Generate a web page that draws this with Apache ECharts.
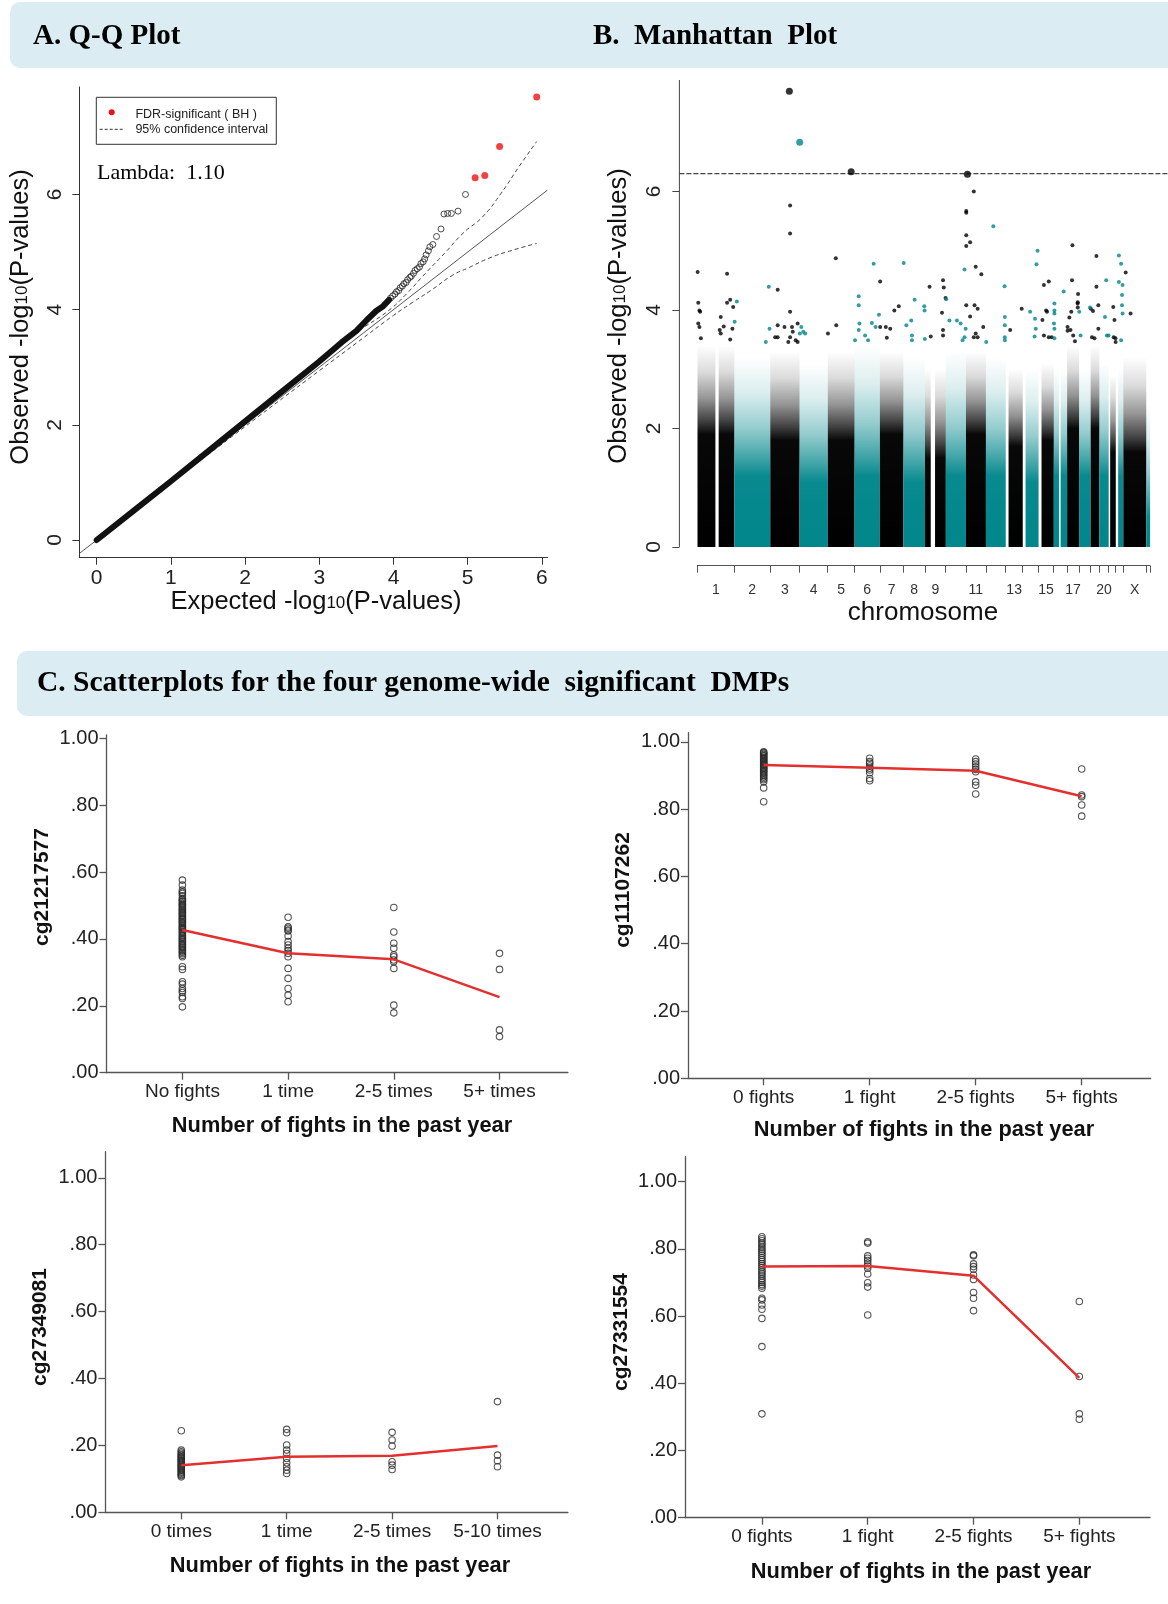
<!DOCTYPE html>
<html>
<head>
<meta charset="utf-8">
<script src="https://cdn.jsdelivr.net/npm/echarts@6/dist/echarts.min.js"></script>
<style>
html, body { margin: 0; padding: 0; background: #fff; }
#chart { width: 1168px; height: 1604px; }
</style>
</head>
<body>
<div id="chart"></div>
<script>
// ---------------- A. Q-Q plot data ----------------
const QQ_X_TICKS = [0, 1, 2, 3, 4, 5, 6];
const QQ_Y_TICKS = [0, 2, 4, 6];
// bulk of the observed vs expected -log10(p) curve (overlapping circles)
const QQ_BODY = [[0, 0], [0.5, 0.51], [1, 1.02], [1.5, 1.54], [2, 2.06], [2.5, 2.58], [3, 3.10],
  [3.3, 3.43], [3.5, 3.63], [3.64, 3.82], [3.77, 3.98], [3.86, 4.06], [3.94, 4.17]];
// upper tail, individually visible circles
const QQ_TAIL = [[3.96, 4.20], [3.99, 4.24], [4.02, 4.27], [4.04, 4.31], [4.07, 4.33], [4.09, 4.38],
  [4.12, 4.41], [4.14, 4.45], [4.17, 4.47], [4.19, 4.52], [4.22, 4.56], [4.24, 4.58], [4.27, 4.63],
  [4.29, 4.68], [4.32, 4.71], [4.35, 4.74], [4.37, 4.80], [4.40, 4.83], [4.42, 4.88], [4.44, 4.95],
  [4.47, 5.02], [4.49, 5.09], [4.53, 5.13], [4.58, 5.27], [4.64, 5.40], [4.68, 5.66], [4.73, 5.67],
  [4.78, 5.67], [4.87, 5.71], [4.97, 6.00]];
const QQ_FDR = [[5.10, 6.29], [5.23, 6.33], [5.43, 6.83], [5.93, 7.69]];
const QQ_CI_UPPER = [[0, 0], [1, 1.01], [2, 2.03], [3, 3.07], [3.5, 3.60], [3.93, 3.98], [4.18, 4.28],
  [4.43, 4.63], [4.69, 4.98], [4.94, 5.33], [5.2, 5.61], [5.45, 6.02], [5.69, 6.48], [5.93, 6.92]];
const QQ_CI_LOWER = [[0, 0], [1, 0.99], [2, 1.97], [3, 2.94], [3.5, 3.42], [4, 3.90], [4.25, 4.12],
  [4.5, 4.33], [4.8, 4.60], [5.0, 4.72], [5.3, 4.90], [5.6, 5.03], [5.93, 5.15]];
const QQ_LAMBDA = '1.10';
const QQ_X_MIN = -0.233, QQ_X_MAX = 6.074, QQ_Y_MIN = -0.307, QQ_Y_MAX = 7.865;

// ---------------- B. Manhattan plot data ----------------
const CHR_NAMES = ['1','2','3','4','5','6','7','8','9','10','11','12','13','14','15','16','17','18','19','20','21','22','X','Y'];
const CHR_LEN = [249, 243, 198, 191, 181, 171, 159, 146, 141, 136, 135, 134, 115, 107, 103, 90, 81, 78, 59, 63, 48, 51, 155, 26];
const CHR_SHOWN_LABELS = ['1','2','3','4','5','6','7','8','9','11','13','15','17','20','X'];
// height where each chromosome's probe cloud is solid, and where it thins out
const CHR_SOLID = [1.9, 1.2, 1.8, 1.1, 1.8, 1.2, 1.9, 1.1, 1.5, 1.2, 1.9, 1.2, 1.7, 1.1, 1.8, 1.2, 2.0, 1.2, 2.0, 1.2, 1.6, 1.2, 1.6, 0.5];
const CHR_CLOUD = [3.4, 3.2, 3.3, 3.1, 3.3, 3.4, 3.3, 3.2, 3.0, 3.3, 3.3, 3.2, 3.0, 3.0, 3.1, 3.0, 3.4, 3.0, 3.4, 3.1, 2.9, 3.0, 3.2, 2.4];
// [chromosome, start Mb, end Mb] stretches without probes
const CHR_GAPS = [[1, 121, 143], [9, 39, 68], [13, 0, 19], [14, 0, 19], [15, 0, 20], [16, 35, 46], [21, 0, 10], [22, 0, 16]];
const MH_THRESHOLD = 6.30;
// [chromosome, position Mb, -log10 p]
const MH_SIG = [[3, 129, 7.69], [4, 1, 6.83], [5, 158, 6.33], [11, 10, 6.29]];
const MH_POINTS = [
  [1,1,4.64],[1,200,4.61],[1,5,4.12],[1,13,3.99],[1,18,3.97],[1,200,4.12],[1,221,4.17],[1,241,4.05],[1,5,3.77],[1,13,3.71],[1,23,3.52],[1,157,3.88],[1,150,3.66],[1,157,3.60],[1,177,3.72],[1,221,3.50],[1,236,3.68],
  [2,17,4.14],[2,233,4.39],[2,2,3.80],[2,238,3.68],[2,213,3.46],
  [3,134,5.76],[3,134,5.29],[3,50,4.34],[3,50,3.74],[3,50,3.54],[3,33,3.54],[3,134,3.97],[3,96,3.71],[3,147,3.71],[3,152,3.63],[3,134,3.54],[3,122,3.46],[3,172,3.49],[3,185,3.46],[3,185,3.77],
  [4,2,3.60],[4,38,3.60],[4,12,3.71],[4,25,3.63],
  [5,54,4.87],[5,1,3.60],[5,57,3.74],
  [6,129,4.78],[6,28,4.23],[6,28,4.08],[6,165,3.92],[6,33,3.77],[6,28,3.66],[6,71,3.57],[6,91,3.49],[6,117,3.78],[6,3,3.49],[6,142,3.71],
  [7,2,4.48],[7,98,3.99],[7,128,4.06],[7,2,3.71],[7,40,3.71],[7,47,3.53],[7,70,3.68],
  [8,2,4.79],[8,76,4.17],[8,141,4.06],[8,143,3.99],[8,20,3.74],[8,53,3.82],[8,58,3.57],[8,58,3.49],[8,145,3.51],
  [9,31,4.39],[9,122,4.50],[9,127,4.38],[9,115,3.95],[9,139,4.20],[9,39,3.55],[9,122,3.66],[9,122,3.57],
  [10,2,4.18],[10,126,4.68],[10,24,3.82],[10,75,3.82],[10,100,3.77],[10,113,3.49],[10,126,3.54],[10,134,3.68],
  [11,53,6.00],[11,2,5.67],[11,2,5.64],[11,2,5.26],[11,28,5.14],[11,2,5.08],[11,66,4.73],[11,104,4.60],[11,2,4.08],[11,58,4.08],[11,79,4.02],[11,28,3.89],[11,66,3.60],[11,53,3.54],[11,79,3.54],[11,117,3.71],
  [12,50,5.41],[12,126,4.40],[12,128,3.88],[12,2,3.46],[12,128,3.74],[12,128,3.54],[12,128,3.49],
  [13,108,4.02],[13,30,3.66],
  [14,100,5.00],[14,93,4.77],[14,50,3.97],[14,83,3.85],[14,88,3.68],[14,80,3.55],
  [15,36,4.42],[15,69,4.48],[15,51,3.99],[15,26,3.83],[15,36,3.57],[15,57,3.97],[15,69,3.54],[15,89,3.54],
  [16,67,4.31],[16,4,4.11],[16,4,3.99],[16,4,3.94],[16,4,3.68],[16,4,3.52],[16,1,3.77],
  [17,36,5.09],[17,33,4.50],[17,74,4.27],[17,72,4.13],[17,72,4.04],[17,28,3.97],[17,3,3.71],[17,3,3.65],[17,15,3.87],[17,23,3.66],[17,41,3.57],[17,53,3.47],[17,71,4.11],
  [18,74,4.04],[18,1,3.97],[18,10,3.57],
  [19,39,4.91],[19,39,4.39],[19,52,4.08],[19,1,4.02],[19,16,3.98],[19,9,3.54],[19,26,3.52],[19,52,3.68],
  [20,46,4.50],[20,38,3.88],[20,51,3.57],[20,62,3.57],
  [21,31,4.05],[21,39,3.83],[21,34,3.54],[21,46,3.52],[21,47,3.46],
  [22,21,4.92],[22,21,4.47],[22,36,4.78],[22,46,4.42],[22,42,4.25],[22,42,4.08],[22,46,3.94],[22,36,3.49],
  [23,16,4.63],[23,49,3.94]
];
const MH_Y_TICKS = [0, 2, 4, 6];
const MH_Y_MIN = -0.31, MH_Y_MAX = 7.88;

// ---------------- C. DMP scatterplots ----------------
const C_Y_TICKS = [0, 0.2, 0.4, 0.6, 0.8, 1.0];

const P1_NAME = 'cg21217577';
const P1_LABELS = ['No fights', '1 time', '2-5 times', '5+ times'];
const P1_G0 = [0.576, 0.561, 0.546, 0.540, 0.536, 0.529, 0.521, 0.518, 0.514, 0.511, 0.506, 0.503, 0.500, 0.496, 0.492, 0.489,
  0.486, 0.481, 0.478, 0.475, 0.471, 0.468, 0.463, 0.460, 0.457, 0.452, 0.449, 0.446, 0.441, 0.438, 0.434, 0.431, 0.428,
  0.424, 0.420, 0.417, 0.412, 0.409, 0.405, 0.401, 0.398, 0.394, 0.391, 0.386, 0.383, 0.379, 0.375, 0.372, 0.368,
  0.364, 0.360, 0.356, 0.351, 0.347, 0.317, 0.309, 0.272, 0.265, 0.252, 0.245, 0.240, 0.227, 0.222, 0.197];
const P1_G1 = [0.465, 0.436, 0.432, 0.427, 0.424, 0.409, 0.392, 0.382, 0.372, 0.365, 0.357, 0.347, 0.312, 0.282, 0.252, 0.232, 0.212];
const P1_G2 = [0.494, 0.421, 0.387, 0.372, 0.352, 0.347, 0.337, 0.332, 0.312, 0.202, 0.179];
const P1_G3 = [0.357, 0.309, 0.128, 0.108];
const P1_MEAN = [0.427, 0.357, 0.339, 0.226];

const P2_NAME = 'cg11107262';
const P2_LABELS = ['0 fights', '1 fight', '2-5 fights', '5+ fights'];
const P2_G0 = [0.970, 0.968, 0.965, 0.962, 0.959, 0.957, 0.953, 0.950, 0.948, 0.944, 0.941, 0.939, 0.935, 0.932, 0.930,
  0.926, 0.923, 0.921, 0.917, 0.914, 0.911, 0.907, 0.903, 0.900, 0.895, 0.891, 0.887, 0.881, 0.863, 0.822];
const P2_G1 = [0.951, 0.941, 0.936, 0.928, 0.921, 0.916, 0.908, 0.891, 0.884];
const P2_G2 = [0.949, 0.941, 0.934, 0.926, 0.918, 0.911, 0.881, 0.871, 0.845];
const P2_G3 = [0.919, 0.842, 0.837, 0.812, 0.779];
const P2_MEAN = [0.931, 0.923, 0.914, 0.838];

const P3_NAME = 'cg27349081';
const P3_LABELS = ['0 times', '1 time', '2-5 times', '5-10 times'];
const P3_G0 = [0.244, 0.186, 0.181, 0.177, 0.173, 0.170, 0.166, 0.163, 0.160, 0.156, 0.153, 0.150, 0.147, 0.143, 0.140,
  0.137, 0.134, 0.130, 0.127, 0.124, 0.120, 0.117, 0.113, 0.110, 0.106];
const P3_G1 = [0.248, 0.238, 0.201, 0.186, 0.176, 0.161, 0.148, 0.136, 0.126, 0.116];
const P3_G2 = [0.239, 0.216, 0.198, 0.151, 0.141, 0.128];
const P3_G3 = [0.331, 0.171, 0.154, 0.136];
const P3_MEAN = [0.141, 0.166, 0.169, 0.198];

const P4_NAME = 'cg27331554';
const P4_LABELS = ['0 fights', '1 fight', '2-5 fights', '5+ fights'];
const P4_G0 = [0.836, 0.830, 0.824, 0.817, 0.812, 0.805, 0.799, 0.793, 0.787, 0.781, 0.774, 0.768, 0.762, 0.756, 0.750,
  0.744, 0.737, 0.731, 0.725, 0.719, 0.712, 0.706, 0.700, 0.694, 0.689, 0.683, 0.653, 0.648, 0.633, 0.620, 0.593, 0.509, 0.309];
const P4_G1 = [0.821, 0.817, 0.779, 0.772, 0.765, 0.757, 0.749, 0.742, 0.725, 0.699, 0.686, 0.603];
const P4_G2 = [0.782, 0.779, 0.755, 0.747, 0.739, 0.722, 0.709, 0.670, 0.653, 0.616];
const P4_G3 = [0.643, 0.420, 0.309, 0.293];
const P4_MEAN = [0.747, 0.749, 0.720, 0.416];

// ---------------- styling ----------------
const SANS = "'Liberation Sans', Arial, sans-serif";
const SERIF = "'Liberation Serif', 'Times New Roman', serif";
const TEAL_RGB = '0,134,139';
const BLACK_RGB = '0,0,0';
const HEADER_FILL = '#dbedf3';
const RED_LINE = '#e3302f';

// cumulative chromosome offsets
const CHR_START = [];
let genomeLen = 0;
CHR_LEN.forEach(l => { CHR_START.push(genomeLen); genomeLen += l; });
const MH_X_MIN = -0.04 * genomeLen, MH_X_MAX = genomeLen * 1.04;
const CHR_BOUNDS = CHR_START.concat([genomeLen]);
const CHR_LABEL_POS = CHR_SHOWN_LABELS.map(n => {
  const i = CHR_NAMES.indexOf(n);
  return CHR_START[i] + CHR_LEN[i] / 2;
});

// probe-cloud blocks per chromosome, split at probe-free stretches
const mhBlocks = [];
CHR_LEN.forEach((len, i) => {
  const gaps = CHR_GAPS.filter(g => g[0] === i + 1).sort((a, b) => a[1] - b[1]);
  let cur = 0;
  const segs = [];
  gaps.forEach(g => { if (g[1] > cur) segs.push([cur, g[1]]); cur = g[2]; });
  segs.push([cur, len]);
  segs.forEach(s => mhBlocks.push([CHR_START[i] + s[0], CHR_START[i] + s[1], CHR_SOLID[i], CHR_CLOUD[i], i % 2]));
});
const toGenome = p => [CHR_START[p[0] - 1] + p[1], p[2]];
const mhBlack = MH_POINTS.filter(p => (p[0] - 1) % 2 === 0).map(toGenome);
const mhTeal = MH_POINTS.filter(p => (p[0] - 1) % 2 === 1).map(toGenome);
const mhSigBlack = MH_SIG.filter(p => (p[0] - 1) % 2 === 0).map(toGenome);
const mhSigTeal = MH_SIG.filter(p => (p[0] - 1) % 2 === 1).map(toGenome);

// ---------------- layout ----------------
const grids = [
  { left: 79.4, top: 87, width: 468, height: 470.7 },          // Q-Q
  { left: 679.4, top: 80, width: 488.8, height: 485.3 },       // Manhattan
  { left: 697.4, top: 564.7, width: 452.6, height: 1 },        // chromosome axis
  { left: 106.5, top: 735, width: 461.4, height: 337.7 },      // C top-left
  { left: 688, top: 732.7, width: 462.7, height: 345.6 },      // C top-right
  { left: 105.4, top: 1151.7, width: 462.5, height: 360.6 },   // C bottom-left
  { left: 685, top: 1156.7, width: 465, height: 361 }          // C bottom-right
].map(g => Object.assign({ containLabel: false, outerBoundsMode: 'none' }, g));

const AX_COLOR = '#333';
const tickStyle = (vals, color, width) => ({ show: true, inside: false, length: 7, customValues: vals, lineStyle: { color: color, width: width } });
const lineStyleOf = (color, width) => ({ show: true, onZero: false, lineStyle: { color: color, width: width } });

const xAxes = [];
const yAxes = [];

// Q-Q axes
xAxes.push({
  gridIndex: 0, type: 'value', min: QQ_X_MIN, max: QQ_X_MAX,
  axisLine: lineStyleOf(AX_COLOR, 1), splitLine: { show: false },
  axisTick: tickStyle(QQ_X_TICKS, AX_COLOR, 1),
  axisLabel: { customValues: QQ_X_TICKS, fontSize: 21, color: '#222', fontFamily: SANS, margin: 10, formatter: v => String(Math.round(v)) }
});
yAxes.push({
  gridIndex: 0, type: 'value', min: QQ_Y_MIN, max: QQ_Y_MAX,
  axisLine: lineStyleOf(AX_COLOR, 1), splitLine: { show: false },
  axisTick: tickStyle(QQ_Y_TICKS, AX_COLOR, 1),
  axisLabel: { customValues: QQ_Y_TICKS, rotate: 90, fontSize: 21, color: '#222', fontFamily: SANS, margin: 14, formatter: v => String(Math.round(v)) }
});

// Manhattan axes
xAxes.push({ gridIndex: 1, type: 'value', min: MH_X_MIN, max: MH_X_MAX, show: false, axisLine: { onZero: false }, splitLine: { show: false } });
yAxes.push({
  gridIndex: 1, type: 'value', min: MH_Y_MIN, max: MH_Y_MAX,
  axisLine: { show: false, onZero: false }, splitLine: { show: false },
  axisTick: tickStyle(MH_Y_TICKS, '#444', 1),
  axisLabel: { customValues: MH_Y_TICKS, rotate: 90, fontSize: 21, color: '#222', fontFamily: SANS, margin: 15, formatter: v => String(Math.round(v)) }
});

// chromosome axis
xAxes.push({
  gridIndex: 2, type: 'value', min: 0, max: genomeLen, position: 'bottom',
  axisLine: lineStyleOf('#555', 1),
  axisTick: tickStyle(CHR_BOUNDS, '#555', 1),
  axisLabel: {
    customValues: CHR_LABEL_POS, fontSize: 14, color: '#333', fontFamily: SANS, margin: 17, hideOverlap: false,
    formatter: v => {
      const k = CHR_LABEL_POS.findIndex(c => Math.abs(c - v) < 1e-6);
      return k >= 0 ? CHR_SHOWN_LABELS[k] : '';
    }
  },
  splitLine: { show: false }
});
yAxes.push({ gridIndex: 2, type: 'value', show: false, min: 0, max: 1, axisLine: { onZero: false }, splitLine: { show: false } });

// scatterplot panels
const panels = [
  { name: P1_NAME, labels: P1_LABELS, groups: [P1_G0, P1_G1, P1_G2, P1_G3], mean: P1_MEAN, xMin: -0.718, xMax: 3.647, yMax: 1.010, title: [342, 1126], ytitle: [42.5, 887] },
  { name: P2_NAME, labels: P2_LABELS, groups: [P2_G0, P2_G1, P2_G2, P2_G3], mean: P2_MEAN, xMin: -0.714, xMax: 3.651, yMax: 1.027, title: [924, 1130], ytitle: [623, 890] },
  { name: P3_NAME, labels: P3_LABELS, groups: [P3_G0, P3_G1, P3_G2, P3_G3], mean: P3_MEAN, xMin: -0.720, xMax: 3.668, yMax: 1.078, title: [340, 1566], ytitle: [40.7, 1327] },
  { name: P4_NAME, labels: P4_LABELS, groups: [P4_G0, P4_G1, P4_G2, P4_G3], mean: P4_MEAN, xMin: -0.727, xMax: 3.668, yMax: 1.074, title: [921, 1571.7], ytitle: [621, 1332] }
];
const C_AX = '#555';
panels.forEach((p, k) => {
  const gi = 3 + k;
  xAxes.push({
    gridIndex: gi, type: 'value', min: p.xMin, max: p.xMax,
    axisLine: lineStyleOf(C_AX, 1.3), splitLine: { show: false },
    axisTick: tickStyle([0, 1, 2, 3], C_AX, 1.3),
    axisLabel: { customValues: [0, 1, 2, 3], fontSize: 19, color: '#222', fontFamily: SANS, margin: 10, formatter: v => p.labels[Math.round(v)] }
  });
  yAxes.push({
    gridIndex: gi, type: 'value', min: 0, max: p.yMax,
    axisLine: lineStyleOf(C_AX, 1.3), splitLine: { show: false },
    axisTick: tickStyle(C_Y_TICKS, C_AX, 1.3),
    axisLabel: {
      customValues: C_Y_TICKS, fontSize: 20, color: '#222', fontFamily: SANS, margin: 8,
      formatter: v => (Math.abs(v - 1) < 1e-9 ? '1.00' : v.toFixed(2).replace(/^0/, ''))
    }
  });
});

// ---------------- series ----------------
const series = [];

// Q-Q
series.push({ type: 'line', xAxisIndex: 0, yAxisIndex: 0, data: [[QQ_X_MIN, QQ_X_MIN], [QQ_X_MAX, QQ_X_MAX]],
  symbol: 'none', lineStyle: { color: '#555', width: 1 }, silent: true, z: 2 });
series.push({ type: 'line', xAxisIndex: 0, yAxisIndex: 0, data: QQ_CI_UPPER, smooth: true,
  symbol: 'none', lineStyle: { color: '#444', width: 1, type: [4, 3] }, silent: true, z: 2 });
series.push({ type: 'line', xAxisIndex: 0, yAxisIndex: 0, data: QQ_CI_LOWER, smooth: true,
  symbol: 'none', lineStyle: { color: '#444', width: 1, type: [4, 3] }, silent: true, z: 2 });
series.push({ type: 'line', xAxisIndex: 0, yAxisIndex: 0, data: QQ_BODY,
  symbol: 'none', lineStyle: { color: '#111', width: 6, cap: 'round', join: 'round' }, silent: true, z: 3 });
series.push({ type: 'scatter', xAxisIndex: 0, yAxisIndex: 0, data: QQ_TAIL, symbol: 'circle', symbolSize: 6,
  itemStyle: { color: 'rgba(255,255,255,0)', borderColor: '#222', borderWidth: 1 }, silent: true, z: 3 });
series.push({ type: 'scatter', xAxisIndex: 0, yAxisIndex: 0, data: QQ_FDR, symbol: 'circle', symbolSize: 7,
  itemStyle: { color: '#ee1111' }, silent: true, z: 4 });

// Manhattan: probe clouds, solid at the base and thinning towards the top
series.push({
  type: 'custom', xAxisIndex: 1, yAxisIndex: 1, data: mhBlocks, silent: true, z: 1,
  renderItem: (params, api) => {
    const x0 = api.value(0), x1 = api.value(1), solid = api.value(2), cloud = api.value(3), teal = api.value(4);
    const a = api.coord([x0, 0]), b = api.coord([x1, cloud]);
    const rgb = teal ? TEAL_RGB : BLACK_RGB;
    const f = 1 - solid / cloud;
    return {
      type: 'rect',
      shape: { x: a[0], y: b[1], width: Math.max(0.5, b[0] - a[0]), height: a[1] - b[1] },
      style: {
        fill: {
          type: 'linear', x: 0, y: 0, x2: 0, y2: 1,
          colorStops: [
            { offset: 0, color: `rgba(${rgb},0)` },
            { offset: f * 0.3, color: `rgba(${rgb},0.14)` },
            { offset: f * 0.6, color: `rgba(${rgb},0.42)` },
            { offset: f * 0.85, color: `rgba(${rgb},0.75)` },
            { offset: f, color: `rgba(${rgb},0.97)` },
            { offset: 1, color: `rgba(${rgb},1)` }
          ]
        }
      }
    };
  }
});
series.push({ type: 'line', xAxisIndex: 1, yAxisIndex: 1, data: [[MH_X_MIN, 0], [MH_X_MIN, MH_Y_MAX]],
  symbol: 'none', lineStyle: { color: '#444', width: 1 }, clip: false, silent: true });
series.push({ type: 'line', xAxisIndex: 1, yAxisIndex: 1, data: [[MH_X_MIN, MH_THRESHOLD], [MH_X_MAX, MH_THRESHOLD]],
  symbol: 'none', lineStyle: { color: '#444', width: 1.3, type: [5, 2] }, silent: true, z: 2 });
series.push({ type: 'scatter', xAxisIndex: 1, yAxisIndex: 1, data: mhBlack, symbol: 'circle', symbolSize: 4,
  itemStyle: { color: '#000' }, silent: true, z: 3 });
series.push({ type: 'scatter', xAxisIndex: 1, yAxisIndex: 1, data: mhTeal, symbol: 'circle', symbolSize: 4,
  itemStyle: { color: '#00868b' }, silent: true, z: 3 });
series.push({ type: 'scatter', xAxisIndex: 1, yAxisIndex: 1, data: mhSigBlack, symbol: 'circle', symbolSize: 7,
  itemStyle: { color: '#000' }, silent: true, z: 4 });
series.push({ type: 'scatter', xAxisIndex: 1, yAxisIndex: 1, data: mhSigTeal, symbol: 'circle', symbolSize: 7,
  itemStyle: { color: '#00868b' }, silent: true, z: 4 });

// scatterplots with group means
panels.forEach((p, k) => {
  const ai = 3 + k;
  const pts = [];
  p.groups.forEach((g, gi) => g.forEach(v => pts.push([gi, v])));
  series.push({ type: 'scatter', xAxisIndex: ai, yAxisIndex: ai, data: pts, symbol: 'circle', symbolSize: 6.5,
    itemStyle: { color: 'rgba(255,255,255,0)', borderColor: '#2a2a2a', borderWidth: 1.1 }, silent: true, z: 2 });
  series.push({ type: 'line', xAxisIndex: ai, yAxisIndex: ai, data: p.mean.map((m, i) => [i, m]),
    symbol: 'none', lineStyle: { color: RED_LINE, width: 2.5 }, silent: true, z: 3 });
});

// ---------------- headers, titles, legend ----------------
const titleRich = size => ({
  a: { fontSize: size, fontFamily: SANS, fill: '#111', color: '#111' },
  s: { fontSize: Math.round(size * 0.68), fontFamily: SANS, fill: '#111', color: '#111', padding: [0, 0, -2, 0] }
});
const graphic = [
  { type: 'rect', shape: { x: 10, y: 2, width: 1180, height: 66, r: 10 }, style: { fill: HEADER_FILL }, z: -10 },
  { type: 'rect', shape: { x: 17, y: 651, width: 1180, height: 65, r: 10 }, style: { fill: HEADER_FILL }, z: -10 },
  { type: 'text', x: 33, y: 37, style: { text: 'A. Q-Q Plot', font: `bold 29px ${SERIF}`, fill: '#000', verticalAlign: 'middle' } },
  { type: 'text', x: 593, y: 37, style: { text: 'B.  Manhattan  Plot', font: `bold 29px ${SERIF}`, fill: '#000', verticalAlign: 'middle' } },
  { type: 'text', x: 37, y: 683, style: { text: 'C. Scatterplots for the four genome-wide  significant  DMPs', font: `bold 29.5px ${SERIF}`, fill: '#000', verticalAlign: 'middle' } },
  // Q-Q titles
  { type: 'text', x: 316, y: 602, style: { text: '{a|Expected -log}{s|10}{a|(P-values)}', rich: titleRich(25.5), align: 'center', verticalAlign: 'middle' } },
  { type: 'text', x: 21, y: 317, rotation: Math.PI / 2, style: { text: '{a|Observed -log}{s|10}{a|(P-values)}', rich: titleRich(25.5), align: 'center', verticalAlign: 'middle' } },
  // Manhattan titles
  { type: 'text', x: 923, y: 613, style: { text: 'chromosome', font: `26px ${SANS}`, fill: '#111', align: 'center', verticalAlign: 'middle' } },
  { type: 'text', x: 619, y: 316, rotation: Math.PI / 2, style: { text: '{a|Observed -log}{s|10}{a|(P-values)}', rich: titleRich(25.5), align: 'center', verticalAlign: 'middle' } },
  // Q-Q legend
  { type: 'rect', shape: { x: 96.3, y: 97.3, width: 180, height: 47 }, style: { fill: 'none', stroke: '#333', lineWidth: 1 } },
  { type: 'circle', shape: { cx: 111.7, cy: 112.3, r: 3 }, style: { fill: '#ee1111' } },
  { type: 'line', shape: { x1: 99.7, y1: 129.3, x2: 124.2, y2: 129.3 }, style: { stroke: '#333', lineWidth: 1, lineDash: [3, 2] } },
  { type: 'text', x: 135.4, y: 114.3, style: { text: 'FDR-significant ( BH )', font: `12.5px ${SANS}`, fill: '#222', verticalAlign: 'middle' } },
  { type: 'text', x: 135.4, y: 129.6, style: { text: '95% confidence interval', font: `12.5px ${SANS}`, fill: '#222', verticalAlign: 'middle' } },
  { type: 'text', x: 97, y: 173, style: { text: 'Lambda:  ' + QQ_LAMBDA, font: `22px ${SERIF}`, fill: '#000', verticalAlign: 'middle' } }
];
panels.forEach(p => {
  graphic.push({ type: 'text', x: p.title[0], y: p.title[1], style: { text: 'Number of fights in the past year', font: `bold 21.8px ${SANS}`, fill: '#111', align: 'center', verticalAlign: 'middle' } });
  graphic.push({ type: 'text', x: p.ytitle[0], y: p.ytitle[1], rotation: Math.PI / 2, style: { text: p.name, font: `bold 21px ${SANS}`, fill: '#111', align: 'center', verticalAlign: 'middle' } });
});

const chart = echarts.init(document.getElementById('chart'), null, { renderer: 'canvas' });
chart.setOption({
  animation: false,
  backgroundColor: '#fff',
  textStyle: { fontFamily: SANS },
  grid: grids,
  xAxis: xAxes,
  yAxis: yAxes,
  series: series,
  graphic: graphic
});
</script>
</body>
</html>
